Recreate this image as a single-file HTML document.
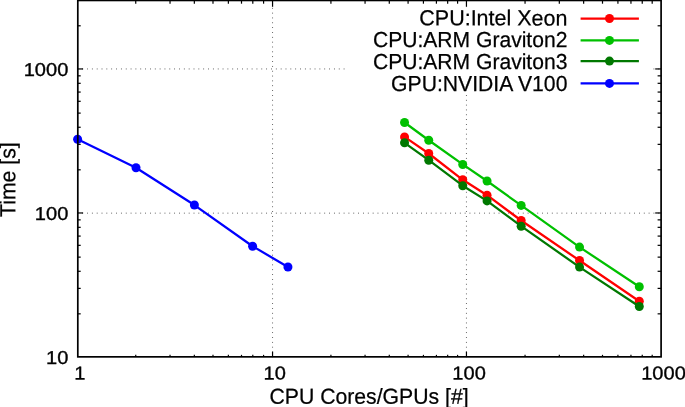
<!DOCTYPE html>
<html lang="en"><head><meta charset="utf-8"><title>Time vs CPU Cores/GPUs</title>
<style>html,body{margin:0;padding:0;background:#fff;overflow:hidden}svg{display:block;will-change:transform}</style>
</head><body>
<svg width="685" height="407" viewBox="0 0 685 407">
<rect x="0" y="0" width="685" height="407" fill="#fff"/>
<g stroke="#444" stroke-width="1" fill="none">
<line x1="272.55" y1="357.25" x2="272.55" y2="0.45" stroke-dasharray="0.8 4.0415"/>
<line x1="466.45" y1="357.25" x2="466.45" y2="0.45" stroke-dasharray="0.8 4.0415"/>
<line x1="77.40" y1="213.15" x2="661.10" y2="213.15" stroke-dasharray="0.8 4.0415"/>
<line x1="77.40" y1="68.95" x2="661.10" y2="68.95" stroke-dasharray="0.8 4.0415"/>
</g>
<rect x="346.5" y="7.4" width="304.7" height="86.6" fill="#fff"/>
<polyline points="404.55,136.90 428.75,153.50 462.75,179.80 487.05,195.20 521.15,220.50 579.55,260.55 639.30,301.20" fill="none" stroke="#ff0000" stroke-width="2.25" stroke-linejoin="round"/>
<circle cx="404.55" cy="136.90" r="4.5" fill="#ff0000"/>
<circle cx="428.75" cy="153.50" r="4.5" fill="#ff0000"/>
<circle cx="462.75" cy="179.80" r="4.5" fill="#ff0000"/>
<circle cx="487.05" cy="195.20" r="4.5" fill="#ff0000"/>
<circle cx="521.15" cy="220.50" r="4.5" fill="#ff0000"/>
<circle cx="579.55" cy="260.55" r="4.5" fill="#ff0000"/>
<circle cx="639.30" cy="301.20" r="4.5" fill="#ff0000"/>
<polyline points="404.55,122.50 428.75,140.25 462.75,164.45 487.05,181.05 521.15,205.40 579.55,247.10 639.30,286.70" fill="none" stroke="#00c000" stroke-width="2.25" stroke-linejoin="round"/>
<circle cx="404.55" cy="122.50" r="4.5" fill="#00c000"/>
<circle cx="428.75" cy="140.25" r="4.5" fill="#00c000"/>
<circle cx="462.75" cy="164.45" r="4.5" fill="#00c000"/>
<circle cx="487.05" cy="181.05" r="4.5" fill="#00c000"/>
<circle cx="521.15" cy="205.40" r="4.5" fill="#00c000"/>
<circle cx="579.55" cy="247.10" r="4.5" fill="#00c000"/>
<circle cx="639.30" cy="286.70" r="4.5" fill="#00c000"/>
<polyline points="404.55,142.80 428.75,160.20 462.75,185.70 487.05,200.90 521.15,226.20 579.55,267.10 639.30,306.50" fill="none" stroke="#007800" stroke-width="2.25" stroke-linejoin="round"/>
<circle cx="404.55" cy="142.80" r="4.5" fill="#007800"/>
<circle cx="428.75" cy="160.20" r="4.5" fill="#007800"/>
<circle cx="462.75" cy="185.70" r="4.5" fill="#007800"/>
<circle cx="487.05" cy="200.90" r="4.5" fill="#007800"/>
<circle cx="521.15" cy="226.20" r="4.5" fill="#007800"/>
<circle cx="579.55" cy="267.10" r="4.5" fill="#007800"/>
<circle cx="639.30" cy="306.50" r="4.5" fill="#007800"/>
<polyline points="77.60,139.20 136.00,167.75 194.40,205.05 252.60,246.25 287.95,266.95" fill="none" stroke="#0000ff" stroke-width="2.25" stroke-linejoin="round"/>
<circle cx="77.60" cy="139.20" r="4.5" fill="#0000ff"/>
<circle cx="136.00" cy="167.75" r="4.5" fill="#0000ff"/>
<circle cx="194.40" cy="205.05" r="4.5" fill="#0000ff"/>
<circle cx="252.60" cy="246.25" r="4.5" fill="#0000ff"/>
<circle cx="287.95" cy="266.95" r="4.5" fill="#0000ff"/>
<line x1="580.6" y1="18.5" x2="638.9" y2="18.5" stroke="#ff0000" stroke-width="2.25"/>
<circle cx="609.5" cy="18.5" r="4.5" fill="#ff0000"/>
<line x1="580.6" y1="40.4" x2="638.9" y2="40.4" stroke="#00c000" stroke-width="2.25"/>
<circle cx="609.5" cy="40.4" r="4.5" fill="#00c000"/>
<line x1="580.6" y1="61.1" x2="638.9" y2="61.1" stroke="#007800" stroke-width="2.25"/>
<circle cx="609.5" cy="61.1" r="4.5" fill="#007800"/>
<line x1="580.6" y1="83.4" x2="638.9" y2="83.4" stroke="#0000ff" stroke-width="2.25"/>
<circle cx="609.5" cy="83.4" r="4.5" fill="#0000ff"/>
<g stroke="#000" stroke-width="1.2" fill="none">
<line x1="135.74" y1="356.85" x2="135.74" y2="354.85"/>
<line x1="135.74" y1="0.45" x2="135.74" y2="3.70"/>
<line x1="170.03" y1="356.85" x2="170.03" y2="354.85"/>
<line x1="170.03" y1="0.45" x2="170.03" y2="3.70"/>
<line x1="194.34" y1="356.85" x2="194.34" y2="354.85"/>
<line x1="194.34" y1="0.45" x2="194.34" y2="3.70"/>
<line x1="212.99" y1="356.85" x2="212.99" y2="354.85"/>
<line x1="212.99" y1="0.45" x2="212.99" y2="3.70"/>
<line x1="228.37" y1="356.85" x2="228.37" y2="354.85"/>
<line x1="228.37" y1="0.45" x2="228.37" y2="3.70"/>
<line x1="241.50" y1="356.85" x2="241.50" y2="354.85"/>
<line x1="241.50" y1="0.45" x2="241.50" y2="3.70"/>
<line x1="252.80" y1="356.85" x2="252.80" y2="354.85"/>
<line x1="252.80" y1="0.45" x2="252.80" y2="3.70"/>
<line x1="263.58" y1="356.85" x2="263.58" y2="354.85"/>
<line x1="263.58" y1="0.45" x2="263.58" y2="3.70"/>
<line x1="272.55" y1="356.85" x2="272.55" y2="351.60"/>
<line x1="272.55" y1="0.45" x2="272.55" y2="6.80"/>
<line x1="330.92" y1="356.85" x2="330.92" y2="354.85"/>
<line x1="330.92" y1="0.45" x2="330.92" y2="3.70"/>
<line x1="365.06" y1="356.85" x2="365.06" y2="354.85"/>
<line x1="365.06" y1="0.45" x2="365.06" y2="3.70"/>
<line x1="389.29" y1="356.85" x2="389.29" y2="354.85"/>
<line x1="389.29" y1="0.45" x2="389.29" y2="3.70"/>
<line x1="408.08" y1="356.85" x2="408.08" y2="354.85"/>
<line x1="408.08" y1="0.45" x2="408.08" y2="3.70"/>
<line x1="423.43" y1="356.85" x2="423.43" y2="354.85"/>
<line x1="423.43" y1="0.45" x2="423.43" y2="3.70"/>
<line x1="436.41" y1="356.85" x2="436.41" y2="354.85"/>
<line x1="436.41" y1="0.45" x2="436.41" y2="3.70"/>
<line x1="447.66" y1="356.85" x2="447.66" y2="354.85"/>
<line x1="447.66" y1="0.45" x2="447.66" y2="3.70"/>
<line x1="457.58" y1="356.85" x2="457.58" y2="354.85"/>
<line x1="457.58" y1="0.45" x2="457.58" y2="3.70"/>
<line x1="466.45" y1="356.85" x2="466.45" y2="351.60"/>
<line x1="466.45" y1="0.45" x2="466.45" y2="6.80"/>
<line x1="525.05" y1="356.85" x2="525.05" y2="354.85"/>
<line x1="525.05" y1="0.45" x2="525.05" y2="3.70"/>
<line x1="559.32" y1="356.85" x2="559.32" y2="354.85"/>
<line x1="559.32" y1="0.45" x2="559.32" y2="3.70"/>
<line x1="583.64" y1="356.85" x2="583.64" y2="354.85"/>
<line x1="583.64" y1="0.45" x2="583.64" y2="3.70"/>
<line x1="602.50" y1="356.85" x2="602.50" y2="354.85"/>
<line x1="602.50" y1="0.45" x2="602.50" y2="3.70"/>
<line x1="617.92" y1="356.85" x2="617.92" y2="354.85"/>
<line x1="617.92" y1="0.45" x2="617.92" y2="3.70"/>
<line x1="630.95" y1="356.85" x2="630.95" y2="354.85"/>
<line x1="630.95" y1="0.45" x2="630.95" y2="3.70"/>
<line x1="642.24" y1="356.85" x2="642.24" y2="354.85"/>
<line x1="642.24" y1="0.45" x2="642.24" y2="3.70"/>
<line x1="652.19" y1="356.85" x2="652.19" y2="354.85"/>
<line x1="652.19" y1="0.45" x2="652.19" y2="3.70"/>
<line x1="77.80" y1="313.84" x2="80.70" y2="313.84"/>
<line x1="661.10" y1="313.84" x2="657.60" y2="313.84"/>
<line x1="77.80" y1="288.38" x2="80.70" y2="288.38"/>
<line x1="661.10" y1="288.38" x2="657.60" y2="288.38"/>
<line x1="77.80" y1="271.29" x2="80.70" y2="271.29"/>
<line x1="661.10" y1="271.29" x2="657.60" y2="271.29"/>
<line x1="77.80" y1="257.13" x2="80.70" y2="257.13"/>
<line x1="661.10" y1="257.13" x2="657.60" y2="257.13"/>
<line x1="77.80" y1="245.33" x2="80.70" y2="245.33"/>
<line x1="661.10" y1="245.33" x2="657.60" y2="245.33"/>
<line x1="77.80" y1="236.08" x2="80.70" y2="236.08"/>
<line x1="661.10" y1="236.08" x2="657.60" y2="236.08"/>
<line x1="77.80" y1="227.33" x2="80.70" y2="227.33"/>
<line x1="661.10" y1="227.33" x2="657.60" y2="227.33"/>
<line x1="77.80" y1="219.87" x2="80.70" y2="219.87"/>
<line x1="661.10" y1="219.87" x2="657.60" y2="219.87"/>
<line x1="77.80" y1="212.97" x2="83.10" y2="212.97"/>
<line x1="661.10" y1="212.97" x2="655.20" y2="212.97"/>
<line x1="77.80" y1="169.82" x2="80.70" y2="169.82"/>
<line x1="661.10" y1="169.82" x2="657.60" y2="169.82"/>
<line x1="77.80" y1="144.36" x2="80.70" y2="144.36"/>
<line x1="661.10" y1="144.36" x2="657.60" y2="144.36"/>
<line x1="77.80" y1="127.26" x2="80.70" y2="127.26"/>
<line x1="661.10" y1="127.26" x2="657.60" y2="127.26"/>
<line x1="77.80" y1="113.11" x2="80.70" y2="113.11"/>
<line x1="661.10" y1="113.11" x2="657.60" y2="113.11"/>
<line x1="77.80" y1="101.30" x2="80.70" y2="101.30"/>
<line x1="661.10" y1="101.30" x2="657.60" y2="101.30"/>
<line x1="77.80" y1="92.06" x2="80.70" y2="92.06"/>
<line x1="661.10" y1="92.06" x2="657.60" y2="92.06"/>
<line x1="77.80" y1="83.31" x2="80.70" y2="83.31"/>
<line x1="661.10" y1="83.31" x2="657.60" y2="83.31"/>
<line x1="77.80" y1="75.84" x2="80.70" y2="75.84"/>
<line x1="661.10" y1="75.84" x2="657.60" y2="75.84"/>
<line x1="77.80" y1="68.95" x2="83.10" y2="68.95"/>
<line x1="661.10" y1="68.95" x2="655.20" y2="68.95"/>
<line x1="77.80" y1="25.79" x2="80.70" y2="25.79"/>
<line x1="661.10" y1="25.79" x2="657.60" y2="25.79"/>
<line x1="77.80" y1="0.33" x2="80.70" y2="0.33"/>
<line x1="661.10" y1="0.33" x2="657.60" y2="0.33"/>
</g>
<rect x="77.80" y="0.45" width="583.30" height="356.40" fill="none" stroke="#000" stroke-width="1.7"/>
<g opacity="0.999" text-rendering="geometricPrecision">
<text id="y1000" transform="translate(68.30,75.95) rotate(0.03) scale(1.0780,1)" font-size="18.6" text-anchor="end" fill="#000" stroke="#000" stroke-width="0.35" font-family="'Liberation Sans', sans-serif">1000</text>
<text id="y100" transform="translate(68.30,219.95) rotate(0.03) scale(1.0780,1)" font-size="18.6" text-anchor="end" fill="#000" stroke="#000" stroke-width="0.35" font-family="'Liberation Sans', sans-serif">100</text>
<text id="y10" transform="translate(68.30,364.00) rotate(0.03) scale(1.0780,1)" font-size="18.6" text-anchor="end" fill="#000" stroke="#000" stroke-width="0.35" font-family="'Liberation Sans', sans-serif">10</text>
<text id="x1" transform="translate(79.80,379.55) rotate(0.03) scale(1.0780,1)" font-size="18.6" text-anchor="middle" fill="#000" stroke="#000" stroke-width="0.35" font-family="'Liberation Sans', sans-serif">1</text>
<text id="x10" transform="translate(274.70,379.55) rotate(0.03) scale(1.0780,1)" font-size="18.6" text-anchor="middle" fill="#000" stroke="#000" stroke-width="0.35" font-family="'Liberation Sans', sans-serif">10</text>
<text id="x100" transform="translate(469.10,379.55) rotate(0.03) scale(1.0780,1)" font-size="18.6" text-anchor="middle" fill="#000" stroke="#000" stroke-width="0.35" font-family="'Liberation Sans', sans-serif">100</text>
<text id="x1000" transform="translate(663.50,379.55) rotate(0.03) scale(1.0780,1)" font-size="18.6" text-anchor="middle" fill="#000" stroke="#000" stroke-width="0.35" font-family="'Liberation Sans', sans-serif">1000</text>
<text id="leg0" transform="translate(567.40,25.40) rotate(0.03) scale(0.9907,1)" font-size="21.7" text-anchor="end" fill="#000" stroke="#000" stroke-width="0.25" font-family="'Liberation Sans', sans-serif">CPU:Intel Xeon</text>
<text id="leg1" transform="translate(567.40,47.10) rotate(0.03) scale(0.9720,1)" font-size="21.7" text-anchor="end" fill="#000" stroke="#000" stroke-width="0.25" font-family="'Liberation Sans', sans-serif">CPU:ARM Graviton2</text>
<text id="leg2" transform="translate(567.40,69.10) rotate(0.03) scale(0.9720,1)" font-size="21.7" text-anchor="end" fill="#000" stroke="#000" stroke-width="0.25" font-family="'Liberation Sans', sans-serif">CPU:ARM Graviton3</text>
<text id="leg3" transform="translate(567.40,91.10) rotate(0.03) scale(0.9750,1)" font-size="21.7" text-anchor="end" fill="#000" stroke="#000" stroke-width="0.25" font-family="'Liberation Sans', sans-serif">GPU:NVIDIA V100</text>
<text id="xlab" transform="translate(369.05,403.75) rotate(0.03) scale(0.9777,1)" font-size="21.7" text-anchor="middle" fill="#000" stroke="#000" stroke-width="0.25" font-family="'Liberation Sans', sans-serif">CPU Cores/GPUs [#]</text>
<text id="ylab" transform="translate(15.25,179.65) rotate(-89.97) scale(0.9788,1)" font-size="21.7" text-anchor="middle" fill="#000" stroke="#000" stroke-width="0.25" font-family="'Liberation Sans', sans-serif">Time [s]</text>
</g>
</svg>
</body></html>
